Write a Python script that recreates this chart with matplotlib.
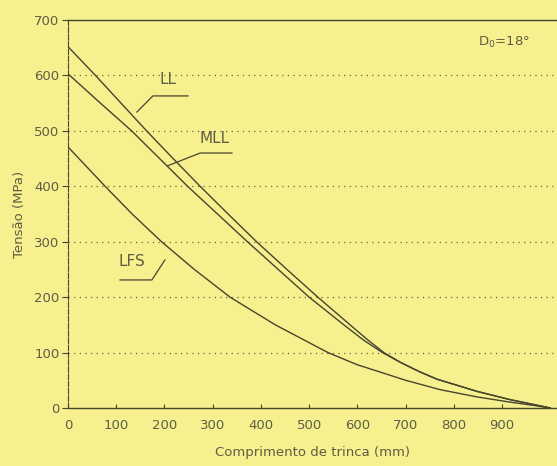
import matplotlib.pyplot as plt

# --- Data ---
ll_x = [0, 57, 110, 163, 218, 274, 332, 391, 454, 518, 585, 620, 655, 690, 730, 765, 848, 917, 967, 1000]
ll_y = [652, 600, 550, 500, 450, 400, 350, 300, 250, 200, 150, 124, 100, 82, 65, 52, 30, 15, 6, 0]

mll_x = [0, 66, 132, 190, 248, 310, 372, 436, 500, 572, 612, 652, 690, 730, 765, 848, 917, 967, 1000]
mll_y = [603, 551, 500, 450, 400, 350, 300, 250, 200, 150, 123, 100, 82, 65, 52, 30, 15, 6, 0]

lfs_x = [0, 77, 133, 194, 262, 336, 430, 539, 600, 661, 700, 772, 848, 917, 967, 1000]
lfs_y = [471, 400, 350, 300, 250, 200, 150, 100, 78, 61, 50, 33, 20, 10.5, 4.5, 0]

x_ticks = [0, 100, 200, 300, 400, 500, 600, 700, 800, 900]
y_ticks = [0, 100, 200, 300, 400, 500, 600, 700]

# --- Style ---
BG = "#f6f08e"
INK = "#46452e"
TXT = "#5e5d45"

fig = plt.figure(figsize=(5.57, 4.66), dpi=100, facecolor=BG)
ax = fig.add_axes([0.122, 0.1245, 0.878, 0.8326], facecolor=BG)

ax.plot(ll_x, ll_y, color=INK, lw=1.0)
ax.plot(mll_x, mll_y, color=INK, lw=1.0)
ax.plot(lfs_x, lfs_y, color=INK, lw=1.0)

ax.set_xlim(0, 1014)
ax.set_ylim(0, 700)

for v in y_ticks[1:-1]:
    ax.axhline(v, color=INK, lw=0.9, ls=(0, (1, 3.5)), alpha=0.8)

ax.set_xticks(x_ticks)
ax.set_yticks(y_ticks)
ax.tick_params(axis="x", direction="in", length=3, color=INK, labelcolor=TXT, labelsize=9.5, pad=8)
ax.tick_params(axis="y", direction="out", length=4, color=INK, labelcolor=TXT, labelsize=9.5, pad=2)

ax.spines["right"].set_visible(False)
for s in ["top", "bottom"]:
    ax.spines[s].set_color(INK)
    ax.spines[s].set_linewidth(1.0)
ax.spines["left"].set_color(INK)
ax.spines["left"].set_linewidth(0.8)
ax.spines["left"].set_linestyle((0, (5, 1.5)))

ax.set_xlabel("Comprimento de trinca (mm)", color=TXT, fontsize=9.5, labelpad=10)
ax.set_ylabel("Tensão (MPa)", color=TXT, fontsize=9.5, labelpad=6)

# curve labels with leader lines
ax.text(207, 592, "LL", color=TXT, fontsize=11, ha="center", va="center")
ax.plot([143, 176, 249], [534, 563, 563], color=INK, lw=0.9)

ax.text(305, 487, "MLL", color=TXT, fontsize=11, ha="center", va="center")
ax.plot([207, 274, 340], [437, 460, 460], color=INK, lw=0.9)

ax.text(133, 264, "LFS", color=TXT, fontsize=11, ha="center", va="center")
ax.plot([108, 174, 201], [231, 231, 267], color=INK, lw=0.9)

ax.text(905, 659, r"D$_0$=18°", color=TXT, fontsize=9.5, ha="center", va="center")

fig.savefig("out.png", dpi=100, facecolor=BG)
